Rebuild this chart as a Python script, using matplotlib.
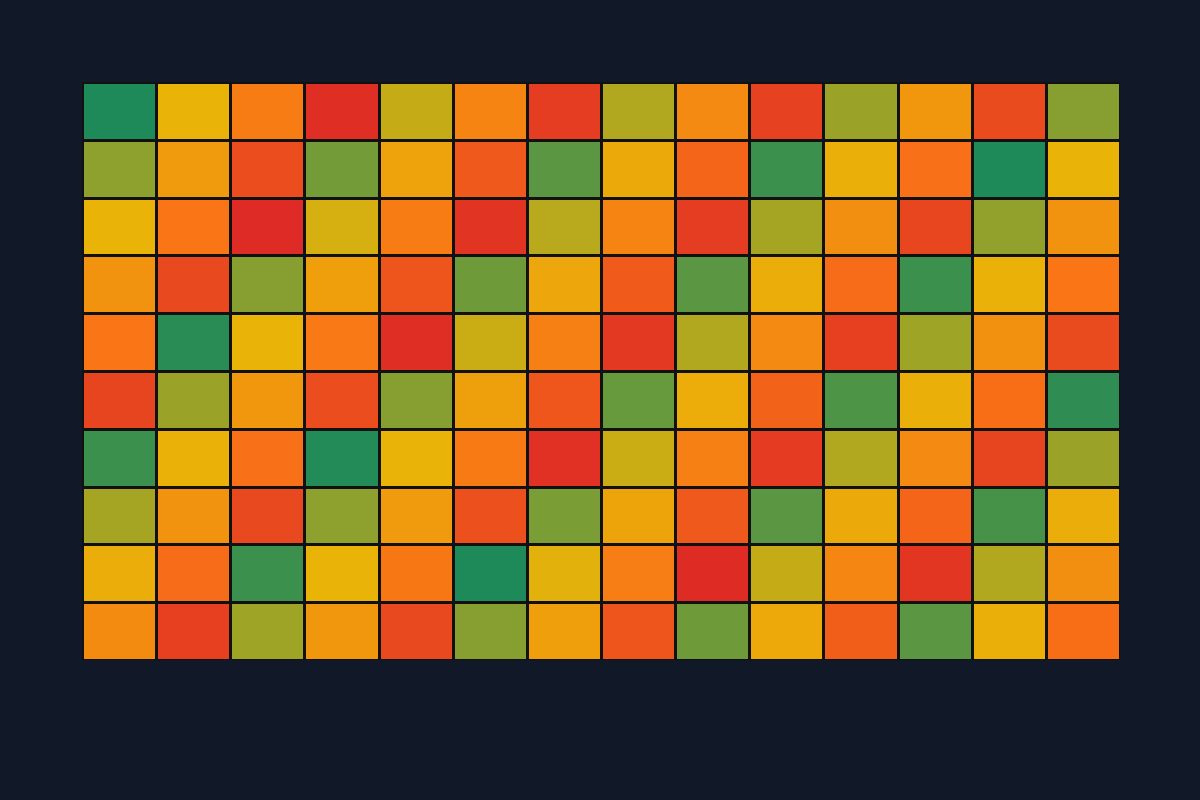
import numpy as np
import matplotlib
matplotlib.use("Agg")
import matplotlib.pyplot as plt
from matplotlib.colors import LinearSegmentedColormap

# cell values (0 = green ... 100 = red), row 0 is the top row
row0 = [0, 33, 62, 96, 27, 58, 90, 24, 55, 88, 20, 48, 84, 17]
row1 = [18, 46, 83, 14, 42, 78, 10, 38, 73, 5, 35, 68, 0, 33]
row2 = [33, 66, 98, 30, 62, 94, 25, 58, 90, 22, 52, 86, 19, 50]
row3 = [50, 85, 17, 44, 80, 13, 40, 77, 10, 36, 70, 5, 34, 66]
row4 = [66, 2, 33, 64, 96, 28, 60, 92, 24, 55, 89, 21, 51, 84]
row5 = [87, 20, 48, 83, 17, 43, 79, 12, 37, 74, 8, 35, 69, 3]
row6 = [5, 34, 68, 1, 33, 63, 95, 28, 60, 91, 24, 55, 87, 20]
row7 = [22, 50, 85, 18, 46, 82, 15, 41, 78, 10, 38, 73, 7, 36]
row8 = [36, 70, 5, 33, 65, 0, 32, 61, 97, 27, 57, 93, 24, 52]
row9 = [54, 89, 21, 48, 85, 17, 44, 80, 13, 39, 76, 10, 35, 69]

data = np.array([row0, row1, row2, row3, row4, row5, row6, row7, row8, row9])

cmap = LinearSegmentedColormap.from_list(
    "heat", [(0, "#1e8a5a"), (0.33, "#eab308"), (0.67, "#f97316"), (1, "#dc2626")])

fig = plt.figure(figsize=(12, 8), dpi=100, facecolor="#111827")
ax = fig.add_axes([0.0683, 0.175, 0.865, 0.7225])
ax.set_facecolor("#111827")
ax.pcolormesh(data, cmap=cmap, vmin=0, vmax=100, edgecolors="#111111", linewidth=1.0)
ax.set_xlim(0, data.shape[1])
ax.set_ylim(data.shape[0], 0)
ax.axis("off")

plt.savefig("out.png", dpi=100, facecolor=fig.get_facecolor())
